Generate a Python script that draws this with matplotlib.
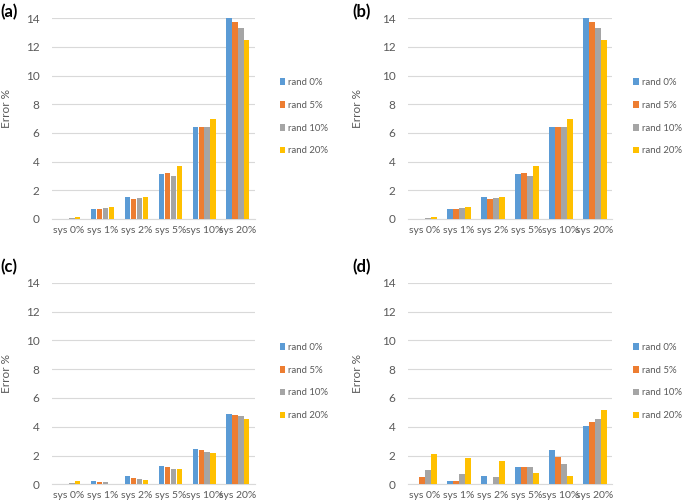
import matplotlib.pyplot as plt
import numpy as np

plt.rcParams["font.family"] = ["Lato", "DejaVu Sans"]

categories = ["sys 0%", "sys 1%", "sys 2%", "sys 5%", "sys 10%", "sys 20%"]
series_names = ["rand 0%", "rand 5%", "rand 10%", "rand 20%"]
colors = ["#5B9BD5", "#ED7D31", "#A5A5A5", "#FFC000"]

# rows: rand 0%, 5%, 10%, 20%; columns: sys categories
err_a = [
    [0.02, 0.70, 1.55, 3.15, 6.42, 14.10],
    [0.03, 0.72, 1.42, 3.20, 6.42, 13.70],
    [0.05, 0.75, 1.45, 3.00, 6.38, 13.30],
    [0.15, 0.85, 1.55, 3.72, 6.95, 12.45],
]
err_b = [
    [0.02, 0.70, 1.55, 3.15, 6.42, 14.10],
    [0.03, 0.72, 1.42, 3.20, 6.42, 13.70],
    [0.05, 0.75, 1.45, 3.00, 6.38, 13.30],
    [0.15, 0.85, 1.55, 3.72, 6.95, 12.45],
]
err_c = [
    [0.03, 0.22, 0.55, 1.25, 2.42, 4.90],
    [0.05, 0.18, 0.45, 1.18, 2.37, 4.82],
    [0.10, 0.14, 0.40, 1.10, 2.28, 4.75],
    [0.20, 0.03, 0.28, 1.08, 2.20, 4.55],
]
err_d = [
    [0.00, 0.20, 0.55, 1.20, 2.38, 4.05],
    [0.50, 0.25, 0.00, 1.18, 1.88, 4.30],
    [1.02, 0.75, 0.50, 1.17, 1.40, 4.55],
    [2.10, 1.82, 1.60, 0.82, 0.58, 5.15],
]

TEXT = "#595959"
GRID = "#D9D9D9"

fig = plt.figure(figsize=(6.85, 5.04), dpi=100)

# label, data, axes rect, panel-label position, ylabel x (axes coords), legend x
panels = [
    ("(a)", err_a, [0.076, 0.5655, 0.296, 0.3985], (0.0, 0.976), -0.197, 1.125),
    ("(b)", err_b, [0.5956, 0.5655, 0.2978, 0.3985], (0.515, 0.976), -0.22, 1.105),
    ("(c)", err_c, [0.076, 0.039, 0.296, 0.400], (0.0, 0.470), -0.197, 1.125),
    ("(d)", err_d, [0.5956, 0.039, 0.2978, 0.400], (0.515, 0.470), -0.22, 1.105),
]

x = np.arange(len(categories))
pitch = 0.176
width = 0.155

for label, data, rect, lab_pos, ylab_x, leg_x in panels:
    ax = fig.add_axes(rect)
    for i, (name, vals) in enumerate(zip(series_names, data)):
        offs = (i - 1.5) * pitch
        ax.bar(x + offs, vals, width=width, color=colors[i], label=name,
               zorder=3, linewidth=0)
    ax.set_xlim(-0.5, len(categories) - 0.5)
    ax.set_ylim(0, 14)
    ax.set_yticks(range(0, 15, 2))
    ax.set_xticks(x)
    ax.set_xticklabels(categories)
    ax.grid(axis="y", color=GRID, linewidth=0.8, zorder=0)
    for s in ["top", "right", "left"]:
        ax.spines[s].set_visible(False)
    ax.spines["bottom"].set_color(GRID)
    ax.tick_params(axis="both", length=0, colors=TEXT)
    ax.tick_params(axis="y", labelsize=8.5, pad=9)
    ax.tick_params(axis="x", labelsize=7.5, pad=5)
    ax.set_ylabel("Error %", color=TEXT, fontsize=8.5)
    ax.yaxis.set_label_coords(ylab_x, 0.55)
    leg = ax.legend(loc="center left", bbox_to_anchor=(leg_x, 0.51), frameon=False,
                    fontsize=6.9, handlelength=0.55, handleheight=0.7,
                    handletextpad=0.3, labelspacing=1.45, borderpad=0,
                    borderaxespad=0)
    for t in leg.get_texts():
        t.set_color(TEXT)
    fig.text(lab_pos[0], lab_pos[1], label, fontsize=12, fontweight="bold",
             ha="left", va="center")

fig.savefig("out.png", dpi=100)
